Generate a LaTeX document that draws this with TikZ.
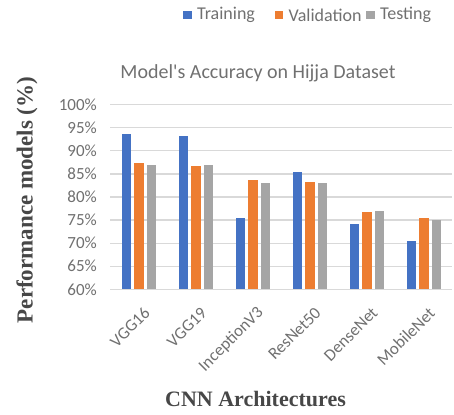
\documentclass[tikz,border=0pt]{standalone}
\usepackage{fontspec}
\setmainfont{Liberation Serif}
\newfontfamily\chartfont{Carlito}
\usetikzlibrary{positioning}
\definecolor{trainblue}{RGB}{68,114,196}
\definecolor{valorange}{RGB}{237,125,49}
\definecolor{testgray}{RGB}{165,165,165}
\definecolor{gridgray}{RGB}{217,217,217}
\definecolor{labelgray}{RGB}{112,112,112}

\begin{document}
\begin{tikzpicture}[x=1pt,y=1pt,
    legsq/.style={fill=#1,minimum size=8.5pt,inner sep=0pt},
    legtxt/.style={font=\chartfont\fontsize{18}{20}\selectfont,text=labelgray,inner sep=0pt},
    ticklbl/.style={font=\chartfont\fontsize{17}{19}\selectfont,text=labelgray,inner sep=0pt,anchor=east},
    catlbl/.style={font=\chartfont\fontsize{17}{19}\selectfont,text=labelgray,inner sep=0pt,anchor=east,rotate=45},
    axtitle/.style={font=\bfseries\fontsize{22}{24}\selectfont,text=black!72}]
    \useasboundingbox (0,0) rectangle (454,414);

    % Legend
    \node[legsq=trainblue] (sqtrain) at (187.5,399) {};
    \node[legtxt,right=5pt of sqtrain] (txttrain) {Training};
    \node[legsq=valorange] (sqval) at (279,399) {};
    \node[legtxt,right=5pt of sqval] (txtval) {Validation};
    \node[legsq=testgray] (sqtest) at (370.5,399) {};
    \node[legtxt,right=5pt of sqtest] (txttest) {Testing};

    % Title
    \node[font=\chartfont\fontsize{20}{22}\selectfont,text=labelgray] (title) at (258,341) {Model's Accuracy on Hijja Dataset};

    % Plot area: 1 unit = 1% above 60%
    \begin{scope}[yshift=124.7pt,y=4.615pt]
        % Grid lines and percent labels
        \foreach \p in {60,65,...,100} {
            \draw[gridgray,line width=1.2pt] (110,{\p-60}) -- (452,{\p-60});
            \node[ticklbl] (tick\p) at (97,{\p-60}) {\p\%};
        }

        % Bars: training, validation, testing
        \foreach \i/\name/\tr/\va/\te in {0/VGG16/93.6/87.4/87.0,
                                          1/VGG19/93.2/86.8/87.0,
                                          2/InceptionV3/75.4/83.7/83.0,
                                          3/ResNet50/85.5/83.3/83.0,
                                          4/DenseNet/74.1/76.7/77.0,
                                          5/MobileNet/70.5/75.4/75.0} {
            \pgfmathsetmacro\c{139+57*\i}
            \fill[trainblue] ({\c-17.25},0) rectangle ({\c-7.75},{\tr-60});
            \fill[valorange] ({\c-4.75},0) rectangle ({\c+4.75},{\va-60});
            \fill[testgray] ({\c+7.75},0) rectangle ({\c+17.25},{\te-60});
            \node[catlbl] (cat\i) at ({\c+8},-4.5) {\name};
        }
    \end{scope}

    % Axis titles
    \node[axtitle,rotate=90,font=\bfseries\fontsize{23}{25}\selectfont] (ytitle) at (27,214) {Performance models (\%)};
    \node[axtitle] (xtitle) at (255.5,15) {CNN Architectures};
\end{tikzpicture}
\end{document}
